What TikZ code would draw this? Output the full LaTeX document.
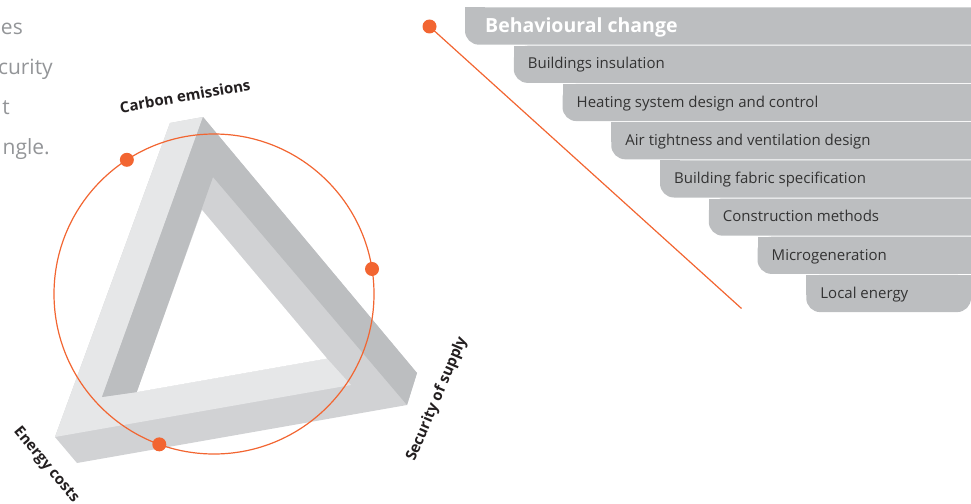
\documentclass[tikz,border=0pt]{standalone}
\usepackage{fontspec}
\setmainfont{Open Sans}

\definecolor{orng}{HTML}{F26531}
\definecolor{barlight}{HTML}{E6E7E8}
\definecolor{barmid}{HTML}{D1D2D4}
\definecolor{bardark}{HTML}{BCBEC0}
\definecolor{boxgrey}{HTML}{BCBEC0}
\definecolor{parag}{HTML}{939598}
\definecolor{ink}{HTML}{231F20}
\definecolor{itemtext}{HTML}{333333}

\begin{document}
\begin{tikzpicture}[
  x=1pt, y=-1pt,
  dot/.style={circle, fill=orng, inner sep=0pt, minimum size=14pt},
  label/.style={font=\fontsize{15}{18}\selectfont\bfseries, text=ink, inner sep=0pt},
  item/.style={font=\fontsize{15}{18}\selectfont, text=itemtext, anchor=base west, inner sep=0pt},
  para/.style={font=\fontsize{21}{25}\selectfont, text=parag, anchor=base east, inner sep=0pt}
]
\useasboundingbox (0,0) rectangle (971,503);

% Cut-off paragraph
\node[para] (par1) at (23,35) {es};
\node[para] (par2) at (53,74.5) {curity};
\node[para] (par3) at (10,114) {t};
\node[para] (par4) at (50,154.5) {ngle.};

% Impossible triangle
\fill[barmid] (55,437) -- (170,123) -- (203,117) -- (417,373) -- (407,405) -- (77,463) -- cycle;
\fill[barlight] (55,437) -- (170,123) -- (203,117) -- (102,397) -- (137,392) -- (327,358.5) -- (351,385) -- cycle;
\fill[bardark] (203,117) -- (417,373) -- (407,405) -- (213,177) -- (137,392) -- (102,397) -- cycle;
\fill[white] (202,210) -- (137,392) -- (327,358.5) -- cycle;

% Ring with dots
\node[draw=orng, line width=1.2pt, circle, minimum size=320pt, inner sep=0pt, outer sep=0pt] (ring) at (214,294) {};
\node[dot] (dotcarbon) at (ring.123.5) {};
\node[dot] (dotsupply) at (ring.9.8) {};
\node[dot] (dotcosts) at (ring.-110.2) {};

% Corner labels
\node[label, rotate=10] (carbon) at (185,96) {Carbon emissions};
\node[label, rotate=67] (supply) at (437,399) {Security of supply};
\node[label, rotate=-50] (costs) at (46,465) {Energy costs};

% Steps
\foreach \i/\r in {0/1000,1/1000,2/1000,3/1000,4/1000,5/1000,6/1000,7/971}{
  \fill[boxgrey, rounded corners=14pt] (465+48.75*\i, 7.5+38.2*\i) rectangle (\r, 44.7+38.2*\i);
  \fill[boxgrey] (465+48.75*\i, 7.5+38.2*\i) rectangle ++(20,20);
}
\fill[boxgrey] (951,274.9) rectangle (971,294.9);

\node[item, text=white, font=\fontsize{19.5}{22}\selectfont\bfseries] (box0) at (485,32.7) {Behavioural change};
\foreach \txt [count=\i] in {Buildings insulation, Heating system design and control,
    Air tightness and ventilation design, Building fabric specification,
    Construction methods, Microgeneration, Local energy}
  \node[item] (box\i) at (479+48.75*\i, 30.8+38.2*\i) {\txt};

% Pointer
\node[dot] (pointer) at (429.5,26.5) {};
\coordinate (pointerend) at (741.5,308.5);
\draw[orng, line width=1.2pt] (pointer.center) -- (pointerend);
\end{tikzpicture}
\end{document}
